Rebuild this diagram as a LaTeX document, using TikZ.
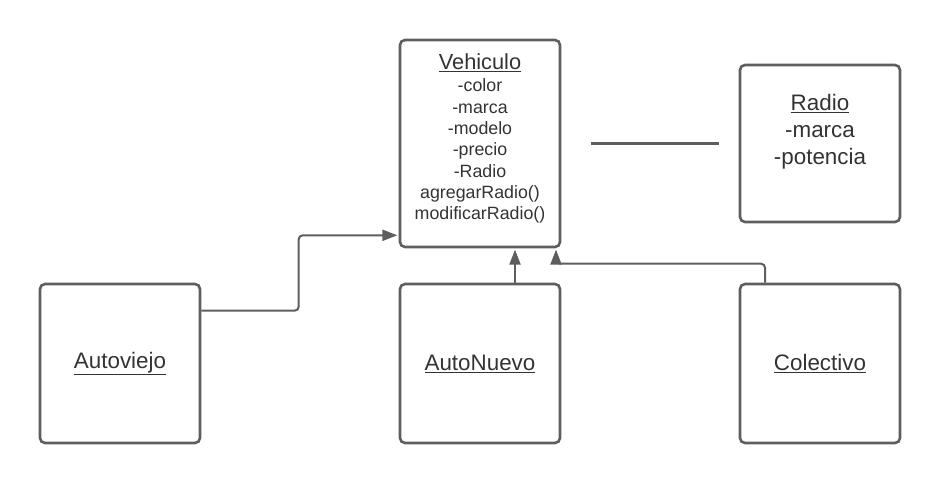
\documentclass[tikz,border=0pt]{standalone}
\usepackage{fontspec}
\setmainfont{Liberation Sans}
\usetikzlibrary{arrows.meta,positioning,calc}
\definecolor{LINE-GRAY}{RGB}{94,94,94}
\definecolor{TEXT-GRAY}{RGB}{51,51,51}

\tikzset{
  classbox/.style={draw=LINE-GRAY, line width=2.6pt, rounded corners=5pt,
    minimum width=160pt, inner sep=0pt, text=TEXT-GRAY,
    font=\fontsize{22.4}{26}\selectfont},
  conn/.style={draw=LINE-GRAY, line width=2pt, rounded corners=4pt,
    -{Triangle[length=15pt,width=11pt]}, shorten >=1.3pt},
}

\begin{document}
\begin{tikzpicture}[x=1pt,y=-1pt]
  \useasboundingbox (0,0) rectangle (940,484);

  % Class Vehiculo (top middle)
  \node[classbox, minimum height=207pt] (veh) at (480,143.5) {};
  \node[below=15pt of veh.north, inner sep=0pt, align=center, text=TEXT-GRAY,
    font=\fontsize{17.8}{21.3}\selectfont] (vehtxt)
    {{\fontsize{21.8}{24}\selectfont\underline{Vehiculo}}\\[1pt]
     -color\\ -marca\\ -modelo\\ -precio\\ -Radio\\
     agregarRadio()\\ modificarRadio()};

  % Class Radio (top right)
  \node[classbox, minimum height=157pt] (radio) at (820,143.5) {};
  \node[below=30pt of radio.north, inner sep=0pt, align=center, text=TEXT-GRAY,
    font=\fontsize{22.4}{27}\selectfont] (radiotxt)
    {\underline{Radio}\\ -marca\\ -potencia};

  % Subclasses (bottom row)
  \node[classbox, minimum height=159pt] (viejo) at (120,363.5) {\underline{Autoviejo}};
  \node[classbox, minimum height=159pt] (nuevo) at (480,363.5) {\underline{AutoNuevo}};
  \node[classbox, minimum height=159pt] (colect) at (820,363.5) {\underline{Colectivo}};

  % Association Vehiculo -- Radio
  \draw[LINE-GRAY, line width=2.6pt] ([xshift=30pt]veh.east) -- ([xshift=-20pt]radio.west);

  % Inheritance arrows
  \draw[conn] ([yshift=-28pt]viejo.north east)
    -| ([xshift=-100pt,yshift=13pt]veh.south west) -- ([yshift=13pt]veh.south west);
  \draw[conn] ([xshift=35pt]nuevo.north) -- ([xshift=35pt]veh.south);
  \draw[conn] ([xshift=-55pt]colect.north) -- ++(0,-19)
    -| ([xshift=76pt]veh.south);
\end{tikzpicture}
\end{document}
